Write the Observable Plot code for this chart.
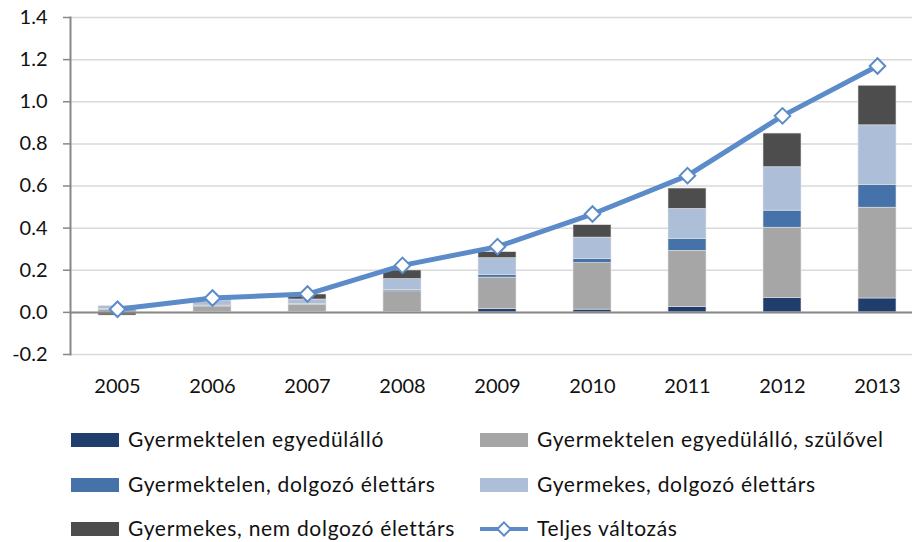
<!DOCTYPE html>
<html>
<head>
<meta charset="utf-8">
<script src="https://cdn.jsdelivr.net/npm/d3@7"></script>
<script src="https://cdn.jsdelivr.net/npm/@observablehq/plot@0.6"></script>
<style>
  html, body { margin: 0; padding: 0; background: #fff; }
  #wrap { position: relative; width: 912px; height: 542px; font-family: Lato, "Open Sans", sans-serif; }
  #chart { position: absolute; left: 0; top: 0; }
  .leg { position: absolute; font-size: 21px; letter-spacing: 0.7px; color: #111; white-space: nowrap; line-height: 1; }
  .sw { position: absolute; width: 48px; height: 14px; }
</style>
</head>
<body>
<div id="wrap">
  <div id="chart"></div>
  <div id="legend"></div>
</div>
<script>
const years = ["2005", "2006", "2007", "2008", "2009", "2010", "2011", "2012", "2013"];
const seriesNames = [
  "Gyermektelen egyedülálló",
  "Gyermektelen egyedülálló, szülővel",
  "Gyermektelen, dolgozó élettárs",
  "Gyermekes, dolgozó élettárs",
  "Gyermekes, nem dolgozó élettárs"
];
const lineName = "Teljes változás";
const seriesColors = ["#1f3e6c", "#a6a6a6", "#4572a9", "#adbfd8", "#4d4d4d"];
const lineColor = "#5b8bc8";

const singleNoKids   = [-0.005, 0.003, 0.003, 0.002, 0.015, 0.013, 0.025, 0.069, 0.066];
const singleParents  = [0.012, 0.025, 0.033, 0.098, 0.150, 0.221, 0.267, 0.333, 0.431];
const coupleWorking  = [0.003, 0.004, 0.004, 0.006, 0.013, 0.020, 0.057, 0.081, 0.108];
const kidsWorking    = [0.015, 0.025, 0.021, 0.052, 0.079, 0.101, 0.142, 0.206, 0.283];
const kidsNotWorking = [-0.010, 0.005, 0.024, 0.041, 0.029, 0.059, 0.097, 0.160, 0.188];
const totalChange    = [0.015, 0.068, 0.087, 0.223, 0.312, 0.467, 0.649, 0.933, 1.170];

const yTicks = [-0.2, 0, 0.2, 0.4, 0.6, 0.8, 1.0, 1.2, 1.4];

const seriesValues = [singleNoKids, singleParents, coupleWorking, kidsWorking, kidsNotWorking];
const barData = [];
seriesNames.forEach((name, si) => {
  years.forEach((yr, i) => barData.push({ year: yr, series: name, value: seriesValues[si][i] }));
});
const lineData = years.map((yr, i) => ({ year: yr, value: totalChange[i] }));

const chart = Plot.plot({
  width: 912,
  height: 400,
  marginLeft: 70,
  marginRight: 0,
  marginTop: 17,
  marginBottom: 46,
  style: { fontFamily: "Lato, 'Open Sans', sans-serif", fontSize: "20px", color: "#111", background: "white" },
  x: { domain: years, range: [69.5, 924.5], paddingInner: 0.6, paddingOuter: 0.3, label: null },
  y: { domain: [-0.2, 1.4], label: null },
  color: { domain: seriesNames, range: seriesColors },
  marks: [
    Plot.ruleY(yTicks, { stroke: "#d9d9d9", strokeWidth: 1.5 }),
    Plot.barY(barData, { x: "year", y: "value", fill: "series", order: seriesNames, stroke: "#e3e3e3", strokeWidth: 0.6 }),
    Plot.ruleY([0], { stroke: "#878787", strokeWidth: 2 }),
    Plot.frame({ anchor: "left", stroke: "#878787", strokeWidth: 2 }),
    Plot.axisY({ ticks: yTicks, tickSize: 7, tickPadding: 16, tickFormat: d => d.toFixed(1), stroke: "#878787", strokeWidth: 1.5, strokeOpacity: 1 }),
    Plot.axisX({ tickSize: 0, tickPadding: 24 }),
    Plot.line(lineData, { x: "year", y: "value", stroke: lineColor, strokeWidth: 5 }),
    Plot.dot(lineData, { x: "year", y: "value", symbol: "diamond2", r: 7, fill: "white", stroke: lineColor, strokeWidth: 2 })
  ]
});
document.getElementById("chart").appendChild(chart);

// Legend
const legend = document.getElementById("legend");
const rowsY = [440, 485, 529];
const cols = [71, 480];
const items = [
  { name: seriesNames[0], color: seriesColors[0], col: 0, row: 0 },
  { name: seriesNames[1], color: seriesColors[1], col: 1, row: 0 },
  { name: seriesNames[2], color: seriesColors[2], col: 0, row: 1 },
  { name: seriesNames[3], color: seriesColors[3], col: 1, row: 1 },
  { name: seriesNames[4], color: seriesColors[4], col: 0, row: 2 },
  { name: lineName, color: null, col: 1, row: 2 }
];
items.forEach(it => {
  const x = cols[it.col], y = rowsY[it.row];
  if (it.color) {
    const sw = document.createElement("div");
    sw.className = "sw";
    sw.style.left = x + "px";
    sw.style.top = (y - 7) + "px";
    sw.style.background = it.color;
    legend.appendChild(sw);
  } else {
    const svg = d3.create("svg").attr("width", 50).attr("height", 24)
      .style("position", "absolute").style("left", (x - 1) + "px").style("top", (y - 12) + "px");
    svg.append("line").attr("x1", 1).attr("x2", 49).attr("y1", 12).attr("y2", 12)
      .attr("stroke", lineColor).attr("stroke-width", 4);
    svg.append("path").attr("d", d3.symbol(d3.symbolDiamond2, Math.PI * 36)())
      .attr("transform", "translate(25,12)").attr("fill", "white").attr("stroke", lineColor).attr("stroke-width", 2);
    legend.appendChild(svg.node());
  }
  const t = document.createElement("div");
  t.className = "leg";
  t.textContent = it.name;
  t.style.left = (x + 57) + "px";
  t.style.top = (y - 12) + "px";
  legend.appendChild(t);
});
</script>
</body>
</html>
